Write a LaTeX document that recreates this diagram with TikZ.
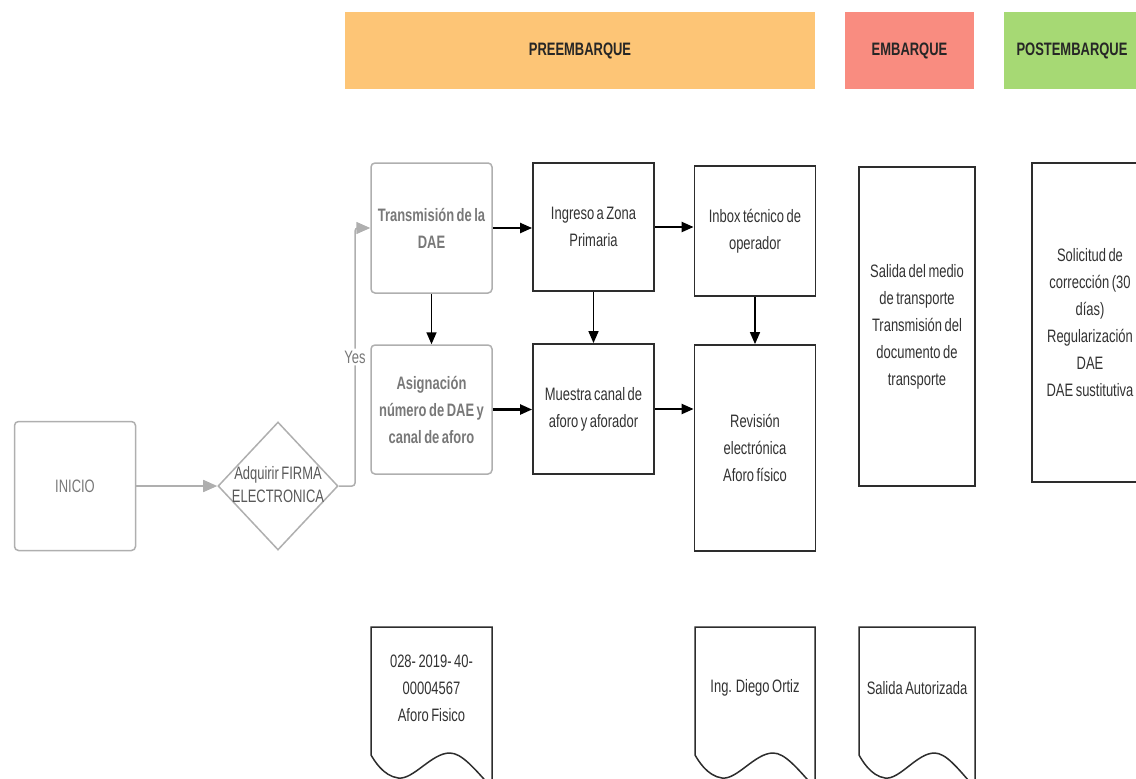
\documentclass[tikz,border=0pt]{standalone}
\usepackage{fontspec}
\setmainfont{Liberation Sans}[FakeStretch=0.72,WordSpace=0.7]
\usetikzlibrary{shapes.geometric,arrows.meta,calc}

\definecolor{preColor}{RGB}{253,197,118}
\definecolor{embColor}{RGB}{249,140,128}
\definecolor{postColor}{RGB}{166,217,116}
\definecolor{softLine}{RGB}{175,175,175}
\definecolor{softText}{RGB}{120,120,120}
\definecolor{darkLine}{RGB}{45,45,45}
\definecolor{darkText}{RGB}{50,50,50}

% outline of a document symbol round a text node
\newcommand\docoutline[2]{%
  \draw[docline] ($(#1)+(-#2,-61)$) -- ($(#1)+(#2,-61)$) -- ($(#1)+(#2,100)$)
    .. controls ($(#1)+(0.7*#2,80)$) and ($(#1)+(0.5*#2,65)$) .. ($(#1)+(0.3*#2,65)$)
    .. controls ($(#1)+(0,65)$) and ($(#1)+(-0.3*#2,92)$) .. ($(#1)+(-0.55*#2,90)$)
    .. controls ($(#1)+(-0.8*#2,88)$) and ($(#1)+(-0.95*#2,72)$) .. ($(#1)+(-#2,67)$)
    -- cycle;}

\begin{document}
\begin{tikzpicture}[x=1pt,y=-1pt]
	\tikzset{phase/.style={rectangle,
				inner sep=0pt,
				minimum height=77pt,
				font=\fontsize{18}{22}\selectfont\bfseries,
				text=black!85},
			softbox/.style={draw=softLine,
				line width=1.5pt,
				rectangle,
				rounded corners=4pt,
				inner sep=0pt,
				minimum width=121pt,
				align=center,
				font=\fontsize{18}{27}\selectfont\bfseries,
				text=softText},
			module/.style={draw=darkLine,
				line width=1.8pt,
				rectangle,
				inner sep=0pt,
				minimum width=121pt,
				align=center,
				font=\fontsize{18}{27}\selectfont,
				text=darkText},
			doctext/.style={inner sep=0pt,
				align=center,
				font=\fontsize{18}{27}\selectfont,
				text=darkText},
			docline/.style={draw=darkLine,
				line width=1.5pt},
			arrow/.style={->,
				>={Stealth[inset=0pt,length=12pt,width=10pt]},
				draw=black,
				line width=2.2pt},
			softarrow/.style={->,
				>={Stealth[inset=0pt,length=14pt,width=12pt]},
				draw=softLine,
				line width=1.5pt,
				rounded corners=3pt}}
	\useasboundingbox (0,0) rectangle (1136,779);

	% Phases
	\node[phase, fill=preColor, minimum width=470pt] (pre) at (580,50.5) {PREEMBARQUE};
	\node[phase, fill=embColor, minimum width=129pt] (emb) at (909.5,50.5) {EMBARQUE};
	\node[phase, fill=postColor, minimum width=136pt] (post) at (1072,50.5) {POSTEMBARQUE};

	% Nodes
	\node[softbox, minimum height=129pt, font=\fontsize{18}{27}\selectfont] (inicio) at (75,486) {INICIO};
	\node[diamond, draw=softLine, line width=1.5pt, minimum width=120pt, minimum height=128pt,
		inner sep=0pt, font=\fontsize{18}{27}\selectfont, text=black!65] (firma) at (278,486)
		{\makebox[0pt]{\begin{tabular}{@{}c@{}}Adquirir FIRMA\\[-4pt]ELECTRONICA\end{tabular}}};
	\node[softbox, minimum height=130pt] (trans) at (431.5,228) {Transmisión de la\\DAE};
	\node[softbox, minimum height=129pt] (asig) at (431.5,409.5) {Asignación\\número de DAE y\\canal de aforo};
	\node[module, minimum height=128pt] (ingreso) at (593.5,227) {Ingreso a Zona\\Primaria};
	\node[module, minimum height=130pt] (muestra) at (593.5,409) {Muestra canal de\\aforo y aforador};
	\node[module, minimum height=130pt] (inbox) at (755,231) {Inbox técnico de\\operador};
	\node[module, minimum height=206pt] (revision) at (755,448) {Revisión\\electrónica\\Aforo físico};
	\node[module, minimum width=116pt, minimum height=319pt] (salida) at (917,326.5)
		{Salida del medio\\de transporte\\Transmisión del\\documento de\\transporte};
	\node[module, minimum width=116pt, minimum height=319pt] (solicitud) at (1090,322.5)
		{Solicitud de\\corrección (30\\días)\\Regularización\\DAE\\DAE sustitutiva};

	% Documents
	\node[doctext] (dae) at (431.5,688) {028- 2019- 40-\\00004567\\Aforo Fisico};
	\node[doctext] (aforador) at (755,688) {Ing. Diego Ortiz};
	\node[doctext] (autorizada) at (917,688) {Salida Autorizada};
	\docoutline{dae}{60.5}
	\docoutline{aforador}{60}
	\docoutline{autorizada}{58}

	% Arrows
	\coordinate (bend) at (355,486);
	\draw[softarrow] (inicio) -- (firma);
	\draw[softarrow] (firma.east) -- (bend) |- node[pos=0.25, fill=white, inner sep=2pt,
		font=\fontsize{18}{22}\selectfont, text=softText] (yes) {Yes} (trans.west);
	\draw[arrow] (trans) -- (trans -| ingreso.west);
	\draw[arrow, line width=1.6pt] (trans) -- (asig);
	\draw[arrow] (asig) -- (asig -| muestra.west);
	\draw[arrow, line width=1.6pt] (ingreso) -- (muestra);
	\draw[arrow] (ingreso) -- (ingreso -| inbox.west);
	\draw[arrow, line width=1.6pt] (inbox) -- (revision);
	\draw[arrow] (muestra) -- (muestra -| revision.west);
\end{tikzpicture}
\end{document}
